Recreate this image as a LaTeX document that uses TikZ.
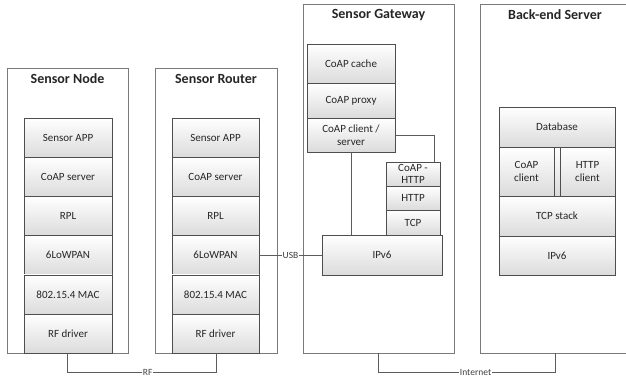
\documentclass[tikz,border=0pt]{standalone}
\usepackage{fontspec}
\setmainfont{Carlito}
\usetikzlibrary{shadows}
\definecolor{edgegray}{HTML}{4E4E4E}
\definecolor{boxgray}{HTML}{7A7A7A}
\definecolor{wiregray}{HTML}{5C5C5C}
\tikzset{
  device/.style = {draw=boxgray, fill=white, inner sep=0,
    drop shadow={shadow xshift=1pt, shadow yshift=-1pt, opacity=0.3}},
  devtitle/.style = {font=\fontsize{14}{16}\selectfont\bfseries, text=black!85},
  layer/.style = {draw=edgegray, top color=white, bottom color=black!14,
    inner sep=0, align=center, text=black!85,
    font=\fontsize{11}{12.5}\selectfont,
    drop shadow={shadow xshift=0.8pt, shadow yshift=-0.8pt, opacity=0.35}},
  wire/.style = {draw=wiregray, line width=0.6pt},
  wlab/.style = {fill=white, inner sep=1pt, text=black!75,
    font=\fontsize{9.5}{11}\selectfont}
}

\begin{document}
\begin{tikzpicture}[x=1pt, y=-1pt]
  \useasboundingbox (0,0) rectangle (626,378);

  % devices
  \node [device, minimum width=121, minimum height=285] (sn) at (67.5,210.5) {};
  \node [device, minimum width=122, minimum height=285] (sr) at (216,210.5) {};
  \node [device, minimum width=151, minimum height=349] (gw) at (378.5,178.5) {};
  \node [device, minimum width=150, minimum height=349] (be) at (555,178.5) {};

  \node [devtitle] (sn-t) at (67.5,79) {Sensor Node};
  \node [devtitle] (sr-t) at (216,79) {Sensor Router};
  \node [devtitle] (gw-t) at (378.5,15) {Sensor Gateway};
  \node [devtitle] (be-t) at (555,15) {Back-end Server};

  % node and router stacks
  \foreach \i/\lab in {0/Sensor APP,1/CoAP server,2/RPL,3/6LoWPAN,4/802.15.4 MAC,5/RF driver} {
    \node [layer, minimum width=88, minimum height=39.2] (n\i) at (68,{137.6+39.2*\i}) {\lab};
    \node [layer, minimum width=87, minimum height=39.2] (r\i) at (215.5,{137.6+39.2*\i}) {\lab};
  }

  % gateway
  \node [layer, minimum width=88, minimum height=39] (cache) at (351,63.5) {CoAP cache};
  \node [layer, minimum width=88, minimum height=35] (proxy) at (351,100.5) {CoAP proxy};
  \node [layer, minimum width=88, minimum height=34] (cli) at (351,135) {CoAP client /\\server};
  \node [layer, minimum width=54, minimum height=24] (xlat) at (413,174) {CoAP -\\HTTP};
  \node [layer, minimum width=54, minimum height=24] (http) at (413,198) {HTTP};
  \node [layer, minimum width=54, minimum height=25] (tcp) at (413,222.5) {TCP};
  \node [layer, minimum width=120, minimum height=40] (gw-ip) at (382,255) {IPv6};

  % back-end
  \node [layer, minimum width=116, minimum height=40] (db) at (557,127) {Database};
  \node [layer, minimum width=55, minimum height=49] (cc) at (526.5,171.5) {CoAP\\client};
  \node [layer, minimum width=6, minimum height=49] (gap) at (557,171.5) {};
  \node [layer, minimum width=55, minimum height=49] (hc) at (587.5,171.5) {HTTP\\client};
  \node [layer, minimum width=116, minimum height=40] (tcps) at (557,216) {TCP stack};
  \node [layer, minimum width=116, minimum height=39] (be-ip) at (557,255.5) {IPv6};

  % links
  \draw [wire] (cli.south) -- (cli.south |- gw-ip.north);
  \draw [wire] (cli.east) -| ([xshift=21pt]xlat.north);
  \draw [wire] (r3.east) -- node [wlab] (usb) {USB} (r3.east -| gw-ip.west);
  \draw [wire] (sn.south) -- (sn.south |- 0,372)
    -- node [wlab, pos=0.54] (rf) {RF} (sr.south |- 0,372) -- (sr.south);
  \draw [wire] (gw.south) -- (gw.south |- 0,372)
    -- node [wlab, pos=0.55] (inet) {Internet} (be.south |- 0,372) -- (be.south);
\end{tikzpicture}
\end{document}
